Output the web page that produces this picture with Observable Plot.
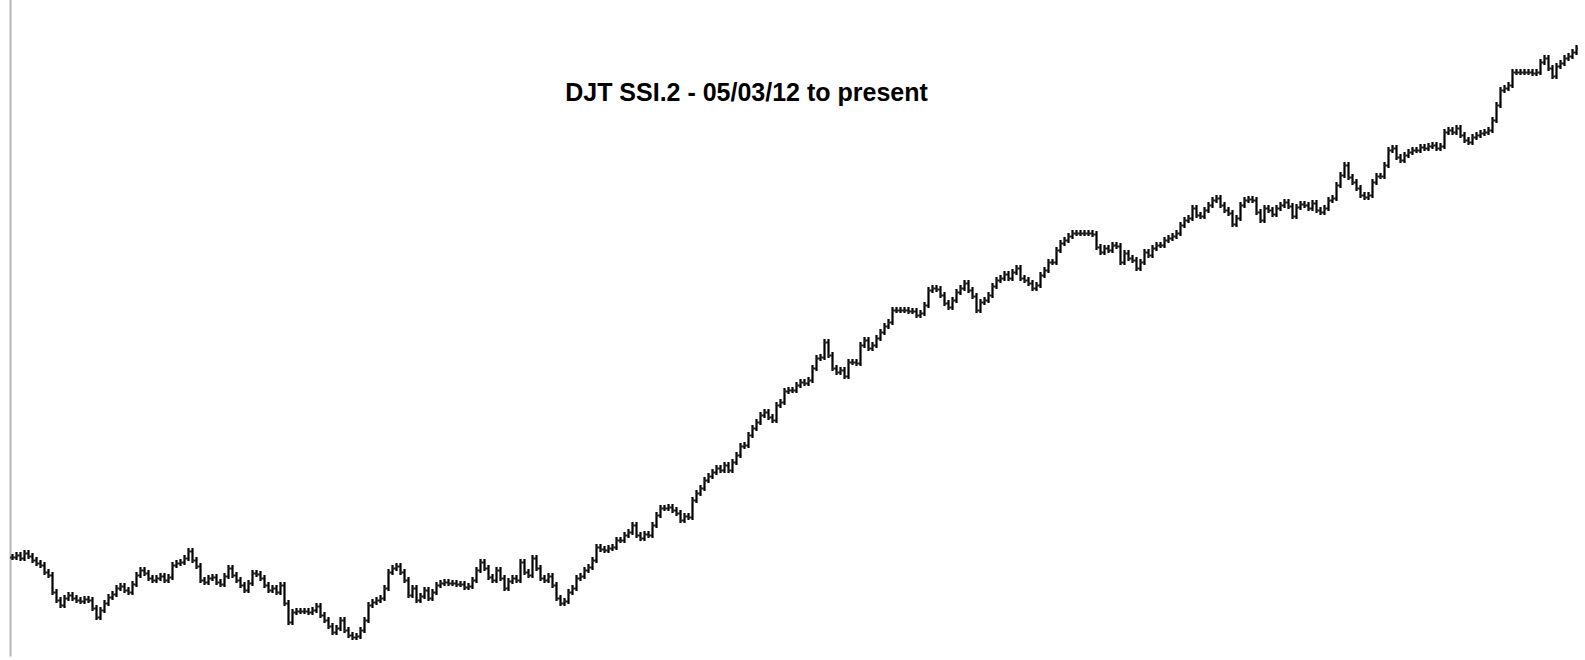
<!DOCTYPE html>
<html>
<head>
<meta charset="utf-8">
<script src="https://cdn.jsdelivr.net/npm/d3@7"></script>
<script src="https://cdn.jsdelivr.net/npm/@observablehq/plot@0.6"></script>
<style>
  html, body { margin: 0; padding: 0; background: #fff; }
  #chart svg { display: block; }
</style>
</head>
<body>
<div id="chart"></div>
<script>
// Chart title
const title = "DJT SSI.2 - 05/03/12 to present";

// Daily closing values of the index (arbitrary index units), read left to right
const closes = [
  // segment 1
  83,85,82,87,84,80,77,75,68,65,48,40,35,42,45,42,40,39,41,40,32,23,30,37,43,46,52,54,50,48,
  56,65,70,67,62,60,62,64,60,63,75,77,78,82,89,80,74,60,58,62,63,58,56,64,72,
  // segment 2
  65,60,55,50,57,67,66,62,55,50,52,48,55,37,18,28,29,29,29,28,30,34,25,20,14,8,12,20,10,5,
  3,4,10,20,35,38,40,42,52,68,72,74,68,60,45,52,40,44,50,42,48,55,57,58,57,57,56,56,
  // segment 3
  53,54,60,70,78,72,63,60,70,62,52,59,62,60,78,68,65,82,72,62,60,64,55,42,37,39,48,52,62,64,
  70,73,80,93,91,90,92,93,100,100,105,108,115,105,102,106,105,115,125,132,132,133,130,127,120,124,123,
  // segment 4
  140,147,152,160,164,168,172,170,175,170,178,185,194,195,205,212,218,225,228,223,220,235,238,249,250,250,255,258,257,260,
  272,282,283,298,285,272,268,270,264,278,278,277,295,300,292,295,302,308,314,318,330,330,330,330,329,329,325,
  // segment 5
  327,335,350,352,351,345,337,333,340,348,352,357,350,344,330,338,340,345,354,360,362,366,362,368,372,362,360,357,352,355,
  365,370,378,378,390,397,400,404,407,407,407,407,407,406,393,388,392,390,395,394,378,387,382,380,372,378,388,385,
  // segment 6
  392,395,395,400,402,404,407,415,420,422,432,425,424,430,435,440,442,435,430,427,416,422,435,440,441,440,428,420,432,430,
  426,432,435,438,434,424,433,436,435,432,437,430,428,432,440,442,455,465,475,463,458,452,445,443,445,458,464,
  // segment 7
  464,475,490,492,483,480,485,488,490,490,493,492,494,495,492,494,508,510,508,512,505,500,498,503,505,507,508,510,520,535,
  550,552,555,568,568,568,568,568,567,568,578,582,572,564,574,577,582,584,588,592
];

const rows = closes.map((c, i) => ({
  i,
  open: i > 0 ? closes[i - 1] : c,
  close: c
}));

const chart = Plot.plot({
  width: 1585,
  height: 660,
  marginLeft: 10,
  marginRight: 7,
  marginTop: 0,
  marginBottom: 5,
  x: { domain: [-0.5, closes.length - 0.5], axis: null },
  y: { domain: [-15, 640], axis: null },
  marks: [
    Plot.frame({ anchor: "left", stroke: "#b5b5b5", strokeWidth: 2, strokeOpacity: 1 }),
    // vertical bar spanning open and close, with short wicks
    Plot.ruleX(rows, {
      x: "i",
      y1: d => Math.max(d.open, d.close),
      y2: d => Math.min(d.open, d.close),
      insetTop: -3, insetBottom: -3,
      stroke: "#000", strokeWidth: 2.2
    }),
    // open tick (left)
    Plot.ruleY(rows, { y: "open", x1: d => d.i - 0.5, x2: "i", stroke: "#222", strokeWidth: 1.8 }),
    // close tick (right)
    Plot.ruleY(rows, { y: "close", x1: "i", x2: d => d.i + 0.5, stroke: "#222", strokeWidth: 1.8 }),
    Plot.text([title], {
      frameAnchor: "top-left",
      dx: 736,
      dy: 100,
      text: d => d,
      textAnchor: "middle",
      lineAnchor: "bottom",
      fontSize: 25,
      fontWeight: "bold",
      fontFamily: "Liberation Sans, Arial, sans-serif",
      fill: "#000"
    })
  ]
});

document.getElementById("chart").appendChild(chart);
</script>
</body>
</html>
